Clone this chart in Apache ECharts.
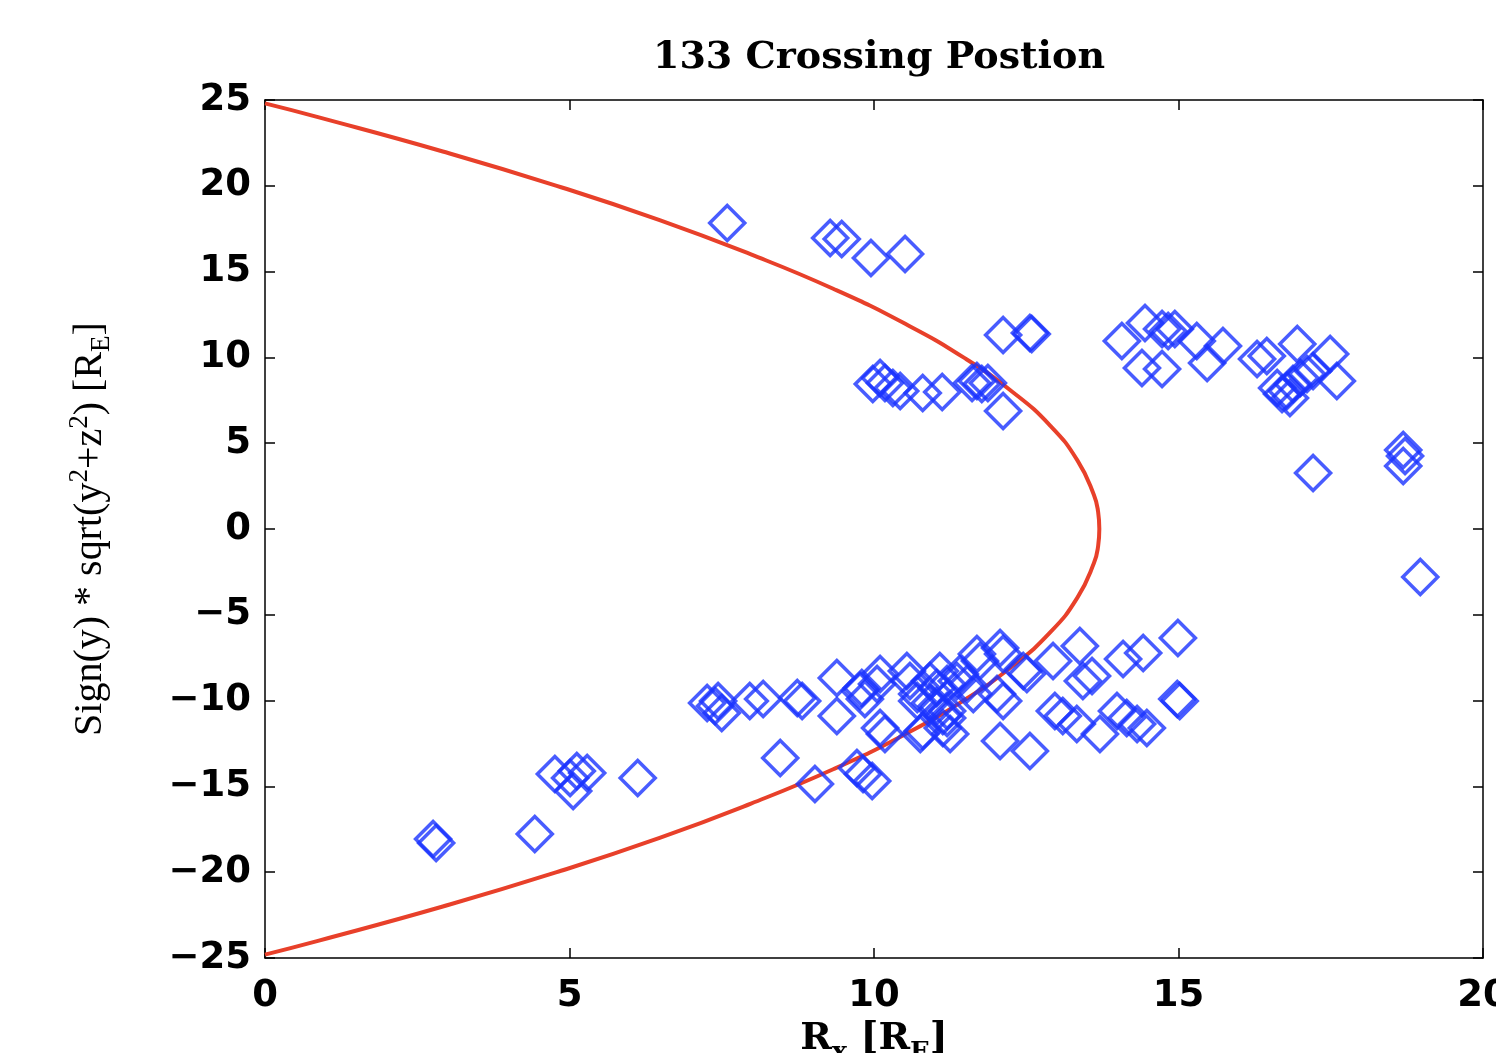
<!DOCTYPE html>
<html>
<head>
<meta charset="utf-8">
<script src="https://cdn.jsdelivr.net/npm/echarts@6/dist/echarts.min.js"></script>
<style>
  html, body { margin: 0; padding: 0; background: #fff; }
  #chart { width: 1496px; height: 1053px; }
</style>
</head>
<body>
<div id="chart"></div>
<script>
// model boundary (red curve)
const curveX = [0, 0.87, 2.92, 4.79, 6.48, 7.98, 9.33, 10.49, 11.47, 12.27, 12.9, 13.34, 13.61, 13.68, 13.7,
  13.68, 13.61, 13.34, 12.9, 12.27, 11.47, 10.49, 9.33, 7.98, 6.48, 4.79, 2.92, 0.87, 0]
const curveY = [24.8, 24, 22, 20, 18, 16, 14, 12, 10, 8, 6, 4, 2, 1, 0,
  -1, -2, -4, -6, -8, -10, -12, -14, -16, -18, -20, -22, -24, -24.8]

// crossing positions [Rx, sign(y)*sqrt(y^2+z^2)]
const crossings = [
  [7.59, 17.83], [9.28, 16.96], [9.47, 16.90], [9.95, 15.79], [10.51, 16.03],
  [12.12, 11.31], [12.56, 11.42], [12.59, 11.36],
  [9.98, 8.45], [10.10, 8.80], [10.18, 8.51], [10.31, 8.22], [10.43, 8.04], [10.80, 7.93],
  [11.12, 7.98], [11.61, 8.51], [11.69, 8.62], [11.77, 8.45], [11.87, 8.51], [12.12, 6.88],
  [14.07, 10.96], [14.45, 12.00], [14.73, 11.66], [14.83, 11.54], [14.94, 11.66], [15.30, 10.96],
  [15.73, 10.66], [15.47, 9.67], [14.40, 9.38], [14.73, 9.32], [16.29, 9.91], [16.45, 10.08],
  [16.95, 10.78], [17.49, 10.20], [17.60, 8.62], [16.62, 8.22], [16.83, 7.63], [16.78, 8.04],
  [17.00, 8.80], [17.11, 9.03], [17.21, 9.21], [16.88, 8.45], [16.70, 7.87],
  [17.21, 3.26], [18.69, 4.60], [18.72, 4.25], [18.69, 3.67], [18.97, -2.80],
  [2.76, -18.07], [2.81, -18.30], [4.43, -17.77], [4.76, -14.28], [5.12, -14.10], [5.29, -14.22],
  [5.06, -15.27], [5.01, -14.51], [6.12, -14.51],
  [7.26, -10.14], [7.44, -10.02], [7.50, -10.72], [7.39, -10.31], [7.96, -10.02], [8.18, -9.91],
  [8.74, -9.85], [8.82, -10.02], [9.39, -8.68], [9.39, -10.90], [8.46, -13.34], [9.03, -14.86],
  [9.72, -13.93], [9.82, -14.28], [9.97, -14.69],
  [9.80, -9.27], [9.85, -9.91], [10.10, -8.45], [10.10, -11.60], [10.18, -11.95], [10.54, -8.28],
  [10.59, -8.86], [10.71, -9.62], [10.76, -11.95], [10.92, -8.86], [11.03, -9.27], [11.08, -8.28],
  [11.20, -9.03], [11.20, -11.01], [11.25, -11.95], [11.13, -11.60], [11.36, -8.86], [11.53, -9.03],
  [11.69, -7.28], [11.74, -7.69], [12.07, -6.93], [12.12, -7.28], [12.45, -8.28], [12.02, -9.62],
  [12.12, -10.02], [12.07, -12.35], [12.56, -12.94], [12.94, -7.69], [12.97, -10.61],
  [9.77, -9.44], [10.05, -9.03], [10.71, -10.02], [11.20, -10.61], [10.80, -11.77], [11.63, -9.62],
  [11.41, -8.45], [11.03, -10.31], [11.13, -10.90], [10.92, -10.14],
  [13.38, -6.82], [13.43, -8.86], [13.58, -8.57], [14.09, -7.58], [14.42, -7.23], [14.99, -6.35],
  [13.10, -10.90], [13.33, -11.36], [13.71, -11.95], [13.99, -10.61], [14.15, -11.01], [14.32, -11.36],
  [14.48, -11.60], [14.98, -9.91], [15.02, -10.02], [12.51, -8.45]
]

const chart = echarts.init(document.getElementById('chart'))

const tickFont = {
  fontFamily: 'DejaVu Sans, sans-serif',
  fontWeight: 'bold',
  fontSize: 37,
  color: '#000'
}
const frameLine = { show: true, onZero: false, lineStyle: { color: '#000', width: 1.5 } }
const innerTick = { show: true, inside: true, length: 10, lineStyle: { color: '#000', width: 1.5 } }

const option = {
  backgroundColor: '#fff',
  animation: false,
  title: {
    text: '133 Crossing Postion',
    left: 874,
    textAlign: 'center',
    top: 34,
    textStyle: {
      fontFamily: 'DejaVu Serif, serif',
      fontWeight: 'bold',
      fontSize: 38,
      color: '#000'
    }
  },
  grid: {
    left: 265,
    right: 13,
    top: 100,
    bottom: 95,
    containLabel: false,
    outerBoundsMode: 'none'
  },
  xAxis: [
    {
      type: 'value',
      min: 0,
      max: 20,
      interval: 5,
      axisLine: frameLine,
      axisTick: innerTick,
      splitLine: { show: false },
      axisLabel: { ...tickFont, margin: 20 },
      name: '{b|R}{sub|x}{b| [R}{sub|E}{b|]}',
      nameLocation: 'middle',
      nameGap: 44,
      nameTextStyle: {
        rich: {
          b: { fontFamily: 'DejaVu Serif, serif', fontWeight: 'bold', fontSize: 38, color: '#000' },
          sub: { fontFamily: 'DejaVu Serif, serif', fontWeight: 'bold', fontSize: 26, color: '#000', padding: [28, 0, 0, 0] }
        }
      }
    },
    {
      type: 'value',
      position: 'top',
      min: 0,
      max: 20,
      interval: 5,
      axisLine: frameLine,
      axisTick: innerTick,
      splitLine: { show: false },
      axisLabel: { show: false }
    }
  ],
  yAxis: [
    {
      type: 'value',
      min: -25,
      max: 25,
      interval: 5,
      axisLine: frameLine,
      axisTick: innerTick,
      splitLine: { show: false },
      axisLabel: {
        ...tickFont,
        margin: 14,
        formatter: v => String(v).replace('-', '\u2212')
      },
      name: 'Sign(y) * sqrt(y{sup|2}+z{sup|2}) [R{sub|E}]',
      nameLocation: 'middle',
      nameGap: 150,
      nameRotate: 90,
      nameTextStyle: {
        fontFamily: 'Liberation Serif, serif',
        fontSize: 40,
        color: '#000',
        rich: {
          sup: { fontFamily: 'Liberation Serif, serif', fontSize: 27, color: '#000', padding: [0, 0, 22, 0] },
          sub: { fontFamily: 'Liberation Serif, serif', fontSize: 27, color: '#000', padding: [22, 0, 0, 0] }
        }
      }
    },
    {
      type: 'value',
      position: 'right',
      min: -25,
      max: 25,
      interval: 5,
      axisLine: frameLine,
      axisTick: innerTick,
      splitLine: { show: false },
      axisLabel: { show: false }
    }
  ],
  series: [
    {
      name: 'boundary',
      type: 'line',
      data: curveX.map((x, i) => [x, curveY[i]]),
      smooth: true,
      showSymbol: false,
      symbol: 'none',
      lineStyle: { color: '#e8402a', width: 4 },
      z: 2
    },
    {
      name: 'crossings',
      type: 'scatter',
      data: crossings,
      symbol: 'diamond',
      symbolSize: [35, 35],
      itemStyle: {
        color: 'rgba(0,0,0,0)',
        borderColor: '#1a33ff',
        borderWidth: 3.5
      },
      z: 3
    }
  ]
}

chart.setOption(option)
</script>
</body>
</html>
